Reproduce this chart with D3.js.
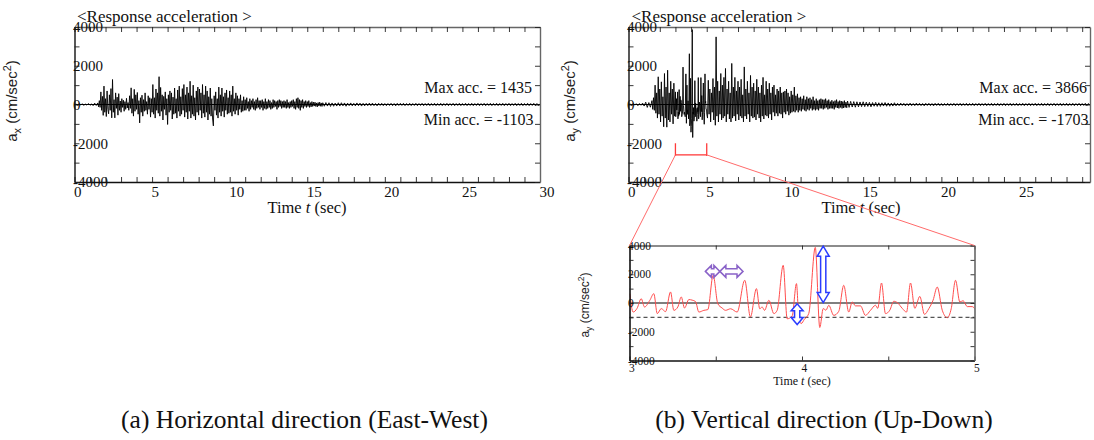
<!DOCTYPE html>
<html><head><meta charset="utf-8">
<script src="https://cdn.jsdelivr.net/npm/d3@7"></script>
<style>body{margin:0;background:#fff} svg{display:block}</style>
</head><body><svg id="c" width="1094" height="440"></svg>
<script>
// ---------------- data ----------------
// Horizontal (East-West) response acceleration (cm/sec^2)
const horizEarlyStart = 0.0, horizEarlyStep = 0.1;      // t = 0.0 .. 1.4
const horizEarly = [0,20,-30,40,-20,30,-40,20,-30,50,-40,30,-60,70,-50];
const horizStrongStart = 1.5, horizStrongStep = 0.05;   // t = 1.5 .. 16.0
const horizStrong = [
 80,-120,200,-150,650,-300,420,-560,950,-400,
 300,-620,700,-250,-480,500,-300,820,-690,1290,
 -400,250,-690,600,-200,380,-550,560,-300,180,
 -400,300,-150,220,-350,150,-250,320,-180,100,
 -300,450,-200,860,-450,300,-600,780,-350,500,
 -250,620,-500,200,-950,350,-400,480,-600,250,
 -350,600,-300,150,-500,450,-250,350,-650,300,
 -400,1030,-500,350,-700,800,-300,600,-450,1435,
 -600,880,-350,500,-800,420,-250,650,-550,300,
 -1030,500,-400,700,-300,600,-750,380,-500,850,
 -450,300,-700,750,-350,950,-600,400,-500,820,
 -300,1030,-650,500,-400,900,-750,600,-350,1200,
 -700,450,-500,1000,-600,350,-800,700,-400,900,
 -550,800,-300,600,-700,1030,-450,500,-650,950,
 -400,700,-800,400,-500,850,-600,300,-750,-1103,
 450,-300,650,-550,300,-700,900,-400,500,-600,
 850,-350,400,-650,600,-300,750,-500,350,-450,
 700,-400,500,-600,950,-350,300,-500,600,-300,
 450,-550,300,-250,500,-400,200,-350,400,-300,
 250,-300,350,-200,150,-350,300,-250,200,-150,
 300,-250,150,-300,250,-200,350,-150,200,-250,
 200,-150,250,-300,150,-200,300,-250,150,-200,
 250,-150,200,-250,100,-200,250,-150,200,-100,
 150,-250,200,-150,250,-100,200,-200,150,-150,
 200,-150,150,-200,250,-150,100,-200,150,-150,
 200,-100,250,-200,150,-250,300,-150,350,-200,
 250,-300,200,-150,250,-200,150,-100,200,-150,
 150,-100,200,-150,100,-120,150,-100,120,-80,
 120,-100,80,-120,100,-80,120,-90,80,-100,
 90
];
const horizTailStart = 16.1, horizTailStep = 0.1;       // t = 16.1 .. 30.0
const horizTail = [
 -90,100,-80,90,-100,80,-90,70,-80,90,
 -80,90,-70,80,-90,70,-60,80,-70,60,
 -70,80,-60,70,-80,60,-70,60,-60,70,
 -60,70,-60,50,-70,60,-50,60,-60,50,
 -60,50,-50,60,-60,50,-70,60,-50,60,
 -50,60,-60,50,-50,60,-60,50,-50,60,
 -60,50,-50,60,-60,50,-50,60,-60,50,
 -50,60,-60,50,-50,60,-60,50,-50,60,
 -60,50,-50,60,-60,50,-50,60,-60,50,
 -50,60,-60,50,-50,60,-60,50,-50,60,
 -60,50,-50,60,-60,50,-50,60,-60,50,
 -50,60,-60,50,-50,60,-60,50,-50,60,
 -60,50,-50,60,-60,50,-50,60,-60,50,
 -50,60,-60,50,-50,60,-60,50,-50,40
];
// Vertical (Up-Down) response acceleration (cm/sec^2)
const vertEarlyStart = 0.0, vertEarlyStep = 0.1;        // t = 0.0 .. 1.4
const vertEarly = [0,30,-40,50,-30,40,-60,50,-40,70,-80,120,-150,100,-140];
const vertRiseStart = 1.5, vertRiseStep = 0.05;         // t = 1.5 .. 2.95
const vertRise = [
 200,-250,350,-300,1000,-450,600,-700,1430,-500,
 800,-900,1170,-600,400,-1150,1600,-700,900,-1170,
 1770,-800,600,-900,1200,-500,800,-1000,1100,-600
];
// enlarged window 3 .. 5 s
const zoomTimes = [
 3.002,3.021,3.044,3.068,3.087,3.118,3.141,3.161,3.184,3.209,3.238,3.257,3.280,3.300,3.319,3.344,3.363,3.383,
 3.402,3.431,3.454,3.485,3.512,3.537,3.557,3.586,3.624,3.668,3.701,3.736,3.755,3.769,3.783,3.808,3.837,3.856,
 3.891,3.914,3.943,3.968,3.981,3.995,4.014,4.039,4.077,4.103,4.123,4.139,4.155,4.184,4.213,4.242,4.271,4.291,
 4.310,4.339,4.368,4.397,4.426,4.439,4.461,4.484,4.509,4.532,4.555,4.581,4.606,4.629,4.654,4.683,4.710,4.735,
 4.760,4.784,4.813,4.842,4.865,4.890,4.915,4.934,4.958,4.987,5.006
];
const zoomAcc = [
 650,-630,-370,300,-280,190,650,-740,-390,-600,770,-510,-280,420,-350,240,200,100,
 -630,-510,-460,1930,-50,-350,-510,-400,-630,1580,-970,1000,-400,-280,-510,190,-740,-510,
 2620,-1100,-900,1350,-950,-1430,-1130,-740,3866,-1703,-390,-500,-160,-860,-580,1230,-630,70,
 -200,-200,-860,-510,-160,-370,1390,-740,-500,120,0,-370,-630,1390,-370,460,-790,-400,
 200,1110,-500,-1020,-400,1580,70,160,-250,-250,-500
];
const vertStrongStart = 5.05, vertStrongStep = 0.05;    // t = 5.05 .. 13.95
const vertStrong = [
 -700,1250,-500,800,-900,600,-400,1340,-800,
 900,-1070,3490,-600,1200,-900,700,-500,1600,-800,
 1000,-700,1400,-600,1860,-900,800,-500,1200,-750,
 600,-900,2120,-700,900,-600,1400,-850,700,-500,
 1200,-800,900,-600,1300,-700,500,-900,1940,-600,
 800,-750,1200,-500,600,-900,1500,-600,900,-700,
 1100,-650,700,-800,1300,-500,900,-700,600,-900,
 1000,-600,1400,-750,500,-550,1200,-600,800,-700,
 1100,-500,600,-800,900,-400,1000,-600,500,-450,
 800,-600,700,-450,900,-500,600,-700,650,-400,
 700,-500,800,-350,600,-550,400,-450,700,-400,
 500,-350,900,-400,450,-300,550,-400,350,-300,
 400,-350,300,-250,450,-300,250,-350,400,-250,
 300,-300,350,-200,250,-300,400,-250,200,-300,
 300,-250,200,-300,250,-200,300,-200,250,-250,
 250,-200,300,-150,200,-250,250,-200,150,-200,
 220,-200,150,-250,200,-150,250,-180,150,-200,
 200,-150,180,-200,150,-180,200,-150,120,-170
];
const vertTailStart = 14.0, vertTailStep = 0.1;         // t = 14.0 .. 29.5
const vertTail = [
 180,-150,160,-130,150,-140,140,-120,130,-110,
 140,-110,120,-100,110,-120,100,-90,110,-100,
 90,-100,90,-80,100,-90,80,-90,70,-80,
 90,-70,60,-60,70,-50,60,-70,50,-60,
 70,-60,50,-60,70,-50,60,-60,50,-70,
 60,-50,60,-60,50,-70,60,-50,60,-60,
 50,-60,50,-50,60,-60,50,-50,60,-60,
 50,-50,60,-60,50,-50,60,-60,50,-50,
 60,-60,50,-50,60,-60,50,-50,60,-60,
 50,-50,60,-60,50,-50,60,-60,50,-50,
 60,-60,50,-50,60,-60,50,-50,60,-60,
 50,-50,60,-60,50,-50,60,-60,50,-50,
 60,-60,50,-50,60,-60,50,-50,60,-60,
 50,-50,60,-60,50,-50,60,-60,50,-50,
 60,-60,50,-50,60,-60,50,-50,60,-60,
 50,-50,60,-60,50,-40
];
const xLabelsMain = [0,5,10,15,20,25,30];
const yLabelsMain = [-4000,-2000,0,2000,4000];
const xLabelsInset = [3,4,5];
const yLabelsInset = [-4000,-2000,0,2000,4000];
const panelTitle = "<Response acceleration >";
const extremes = { h: [1435, -1103], v: [3866, -1703] };
const captions = ["(a) Horizontal direction (East-West)", "(b) Vertical direction (Up-Down)"];
const zoomWindow = [3, 5];
const dashedLevel = -1000;
// annotation arrows in the enlarged window: [t1, t2, level] and [t, a1, a2]
const purpleArrows = [[3.44, 3.524, 2200], [3.524, 3.658, 2200]];
const blueArrows = [[4.123, 3950, 30], [3.972, -60, -1500]];

// ---------------- drawing ----------------
const svg = d3.select("#c");
const SERIF = "'Liberation Serif','Times New Roman',serif";
const SANS = "'Liberation Sans',Arial,sans-serif";

const seg = (vals, t0, step) => vals.map((a, i) => [t0 + i * step, a]);
const zoomSeries = zoomTimes.map((t, i) => [t, zoomAcc[i]]);
const horizSeries = [].concat(
  seg(horizEarly, horizEarlyStart, horizEarlyStep),
  seg(horizStrong, horizStrongStart, horizStrongStep),
  seg(horizTail, horizTailStart, horizTailStep));
const vertSeries = [].concat(
  seg(vertEarly, vertEarlyStart, vertEarlyStep),
  seg(vertRise, vertRiseStart, vertRiseStep),
  zoomSeries,
  seg(vertStrong, vertStrongStart, vertStrongStep),
  seg(vertTail, vertTailStart, vertTailStep));

function panel(cfg) {
  const x = d3.scaleLinear().domain(cfg.xDomain).range(cfg.xRange);
  const y = d3.scaleLinear().domain([-4000, 4000]).range(cfg.yRange);
  const g = svg.append("g");
  const id = "clip" + Math.round(cfg.xRange[0]) + Math.round(cfg.yRange[0]);
  svg.append("clipPath").attr("id", id).append("rect")
    .attr("x", cfg.xRange[0]).attr("y", cfg.yRange[1])
    .attr("width", cfg.xRange[1] - cfg.xRange[0]).attr("height", cfg.yRange[0] - cfg.yRange[1]);
  g.append("line").attr("x1", cfg.xRange[0]).attr("x2", cfg.xRange[1])
    .attr("y1", y(0)).attr("y2", y(0)).attr("stroke", cfg.zeroColor).attr("stroke-width", cfg.zeroWidth);
  if (cfg.dashed !== undefined) {
    g.append("line").attr("x1", cfg.xRange[0]).attr("x2", cfg.xRange[1])
      .attr("y1", y(cfg.dashed)).attr("y2", y(cfg.dashed))
      .attr("stroke", "#555").attr("stroke-width", 1.1).attr("stroke-dasharray", "4,3");
  }
  const line = d3.line().x(d => x(d[0])).y(d => y(d[1])).curve(cfg.curve || d3.curveLinear);
  g.append("path").datum(cfg.data).attr("d", line).attr("fill", "none")
    .attr("stroke", cfg.color).attr("stroke-width", cfg.lineWidth)
    .attr("stroke-linejoin", "round").attr("clip-path", `url(#${id})`);
  const tk = cfg.tick;
  const ax = [
    [d3.axisBottom(x).tickValues(cfg.xMinor).tickSize(-tk), `translate(0,${cfg.yRange[0]})`, cfg.leftColor],
    [d3.axisTop(x).tickValues(cfg.xMinor).tickSize(-tk), `translate(0,${cfg.yRange[1]})`, cfg.frameColor],
    [d3.axisLeft(y).tickValues(d3.range(-4000, 4001, 1000)).tickSize(-tk), `translate(${cfg.xRange[0]},0)`, cfg.leftColor],
    [d3.axisRight(y).tickValues(d3.range(-4000, 4001, 1000)).tickSize(-tk), `translate(${cfg.xRange[1]},0)`, cfg.frameColor]
  ];
  ax.forEach(([a, tr, col]) => {
    const ag = g.append("g").attr("transform", tr).call(a.tickFormat("").tickSizeOuter(0));
    ag.select(".domain").attr("stroke", col).attr("stroke-width", cfg.frameWidth);
    ag.selectAll(".tick line").attr("stroke", "#222").attr("stroke-width", 0.9);
    ag.selectAll(".tick text").remove();
  });
  g.selectAll(null).data(cfg.yLabels).join("text")
    .attr("x", cfg.xRange[0] - 1.5).attr("y", d => y(d)).attr("dy", "0.36em")
    .attr("font-family", SERIF).attr("font-size", cfg.tickFont).attr("fill", "#111")
    .text(d => d);
  g.selectAll(null).data(cfg.xLabels).join("text")
    .attr("x", d => x(d) - 0.5).attr("y", cfg.yRange[0] + cfg.xLabelDy)
    .attr("font-family", SERIF).attr("font-size", cfg.tickFont).attr("fill", "#111")
    .text(d => d);
  const xt = g.append("text").attr("x", cfg.xTitlePos[0]).attr("y", cfg.xTitlePos[1])
    .attr("text-anchor", "middle").attr("font-family", SERIF).attr("font-size", cfg.titleFont).attr("fill", "#111");
  xt.append("tspan").text("Time ");
  xt.append("tspan").attr("font-style", "italic").text("t");
  xt.append("tspan").text(" (sec)");
  const yt = g.append("text")
    .attr("transform", `translate(${cfg.yTitlePos[0]},${cfg.yTitlePos[1]}) rotate(-90)`)
    .attr("text-anchor", "middle").attr("font-family", SANS).attr("font-size", cfg.yTitleFont).attr("fill", "#222");
  const fs = cfg.yTitleFont;
  yt.append("tspan").text("a");
  yt.append("tspan").attr("dy", fs * 0.28).attr("font-size", fs * 0.72).text(cfg.sub);
  yt.append("tspan").attr("dy", -fs * 0.28).text(" (cm/sec");
  yt.append("tspan").attr("dy", -fs * 0.4).attr("font-size", fs * 0.72).text("2");
  yt.append("tspan").attr("dy", fs * 0.4).text(")");
  return { x, y, g };
}

const L = panel({
  data: horizSeries, xDomain: [0, 30], xRange: [74.5, 540], yRange: [182, 27],
  xMinor: d3.range(0, 31, 1), xLabels: xLabelsMain, yLabels: yLabelsMain,
  color: "#000", lineWidth: 0.9, zeroColor: "#000", zeroWidth: 1, tick: 5,
  frameColor: "#666", leftColor: "#111", frameWidth: 1.4, tickFont: 15, xLabelDy: 15,
  titleFont: 16.5, xTitlePos: [307, 213], yTitlePos: [17, 101], yTitleFont: 15, sub: "x"
});
const R = panel({
  data: vertSeries, xDomain: [0, 29.5], xRange: [628.5, 1090], yRange: [182, 27],
  xMinor: d3.range(0, 30, 1), xLabels: xLabelsMain.filter(d => d <= 29.5), yLabels: yLabelsMain,
  color: "#000", lineWidth: 0.9, zeroColor: "#000", zeroWidth: 1, tick: 5,
  frameColor: "#666", leftColor: "#111", frameWidth: 1.4, tickFont: 15, xLabelDy: 15,
  titleFont: 16.5, xTitlePos: [861, 213], yTitlePos: [575, 101], yTitleFont: 15, sub: "y"
});

[[77, L, extremes.h, 532], [631.5, R, extremes.v, 1087]].forEach(([tx, P, ex, rx]) => {
  svg.append("text").attr("x", tx).attr("y", 21.5).attr("font-family", SERIF)
    .attr("font-size", 17).attr("fill", "#111").text(panelTitle);
  svg.append("text").attr("x", rx).attr("y", 93).attr("text-anchor", "end")
    .attr("font-family", SERIF).attr("font-size", 16).attr("fill", "#111").text(`Max acc. = ${ex[0]}`);
  svg.append("text").attr("x", rx + 1.5).attr("y", 125).attr("text-anchor", "end")
    .attr("font-family", SERIF).attr("font-size", 16).attr("fill", "#111").text(`Min acc. = ${ex[1]}`);
});

const I = panel({
  data: zoomSeries, xDomain: zoomWindow, xRange: [629.5, 974.5], yRange: [360.5, 245.5],
  xMinor: [3, 3.5, 4, 4.5, 5], xLabels: xLabelsInset, yLabels: yLabelsInset, dashed: dashedLevel,
  color: "#ff4d4d", lineWidth: 1, zeroColor: "#555", zeroWidth: 1.3, tick: 4, curve: d3.curveMonotoneX,
  frameColor: "#666", leftColor: "#111", frameWidth: 1.6, tickFont: 11.5, xLabelDy: 11,
  titleFont: 12, xTitlePos: [802, 385], yTitlePos: [589, 305], yTitleFont: 12, sub: "y"
});

const bTop = -2000, bBot = -2600;
const red = "#ff3b3b";
zoomWindow.forEach(t => {
  svg.append("line").attr("x1", R.x(t)).attr("x2", R.x(t)).attr("y1", R.y(bTop)).attr("y2", R.y(bBot) + 1)
    .attr("stroke", red).attr("stroke-width", 1.3);
});
svg.append("line").attr("x1", R.x(zoomWindow[0])).attr("x2", R.x(zoomWindow[1]))
  .attr("y1", R.y(bBot)).attr("y2", R.y(bBot)).attr("stroke", red).attr("stroke-width", 1.3);
zoomWindow.forEach(t => {
  svg.append("line").attr("x1", R.x(t)).attr("y1", R.y(bBot))
    .attr("x2", I.x(t)).attr("y2", I.y(4000)).attr("stroke", "#ff6b6b").attr("stroke-width", 1);
});

function hArrow(x1, x2, y, hw, sw, hl) {
  return `M${x1},${y} L${x1 + hl},${y - hw} L${x1 + hl},${y - sw} L${x2 - hl},${y - sw} L${x2 - hl},${y - hw} L${x2},${y} L${x2 - hl},${y + hw} L${x2 - hl},${y + sw} L${x1 + hl},${y + sw} L${x1 + hl},${y + hw} Z`;
}
function vArrow(x, y1, y2, hw, sw, hl) {
  return `M${x},${y1} L${x - hw},${y1 + hl} L${x - sw},${y1 + hl} L${x - sw},${y2 - hl} L${x - hw},${y2 - hl} L${x},${y2} L${x + hw},${y2 - hl} L${x + sw},${y2 - hl} L${x + sw},${y1 + hl} L${x + hw},${y1 + hl} Z`;
}
purpleArrows.forEach(([t1, t2, a]) => {
  svg.append("path").attr("d", hArrow(I.x(t1), I.x(t2), I.y(a), 6, 2.6, 6))
    .attr("fill", "#fff").attr("stroke", "#8a63c8").attr("stroke-width", 1.5);
});
blueArrows.forEach(([t, a1, a2], i) => {
  svg.append("path").attr("d", vArrow(I.x(t), I.y(a1), I.y(a2), 6, 2.6, i === 0 ? 10 : 7))
    .attr("fill", "#fff").attr("stroke", "#2a3cff").attr("stroke-width", 1.5);
});

[[304.5, captions[0]], [824, captions[1]]].forEach(([cx, txt]) => {
  svg.append("text").attr("x", cx).attr("y", 428).attr("text-anchor", "middle")
    .attr("font-family", SERIF).attr("font-size", 25.5).attr("fill", "#111").text(txt);
});
</script></body></html>
